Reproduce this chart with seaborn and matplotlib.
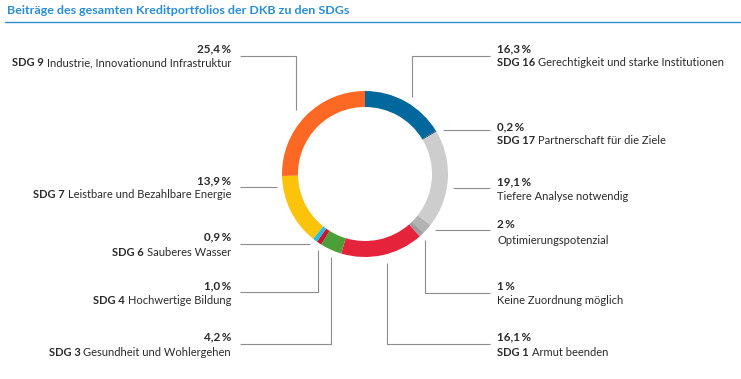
import matplotlib
matplotlib.use("Agg")
import matplotlib.pyplot as plt
import seaborn as sns

# ---- data ----
categories = ["SDG 16", "SDG 17", "Tiefere Analyse", "Optimierung", "Keine Zuordnung",
              "SDG 1", "SDG 3", "SDG 4", "SDG 6", "SDG 7", "SDG 9"]
values = [16.3, 0.2, 19.1, 2.0, 1.0, 16.1, 4.2, 1.0, 0.9, 13.9, 25.4]
colors = ["#00689D", "#19486A", "#CDCDCD", "#B3B3B3", "#9E9E9E",
          "#E5243B", "#4C9F38", "#C5192D", "#26BDE2", "#FCC30B", "#FD6925"]

pct_labels = ["16,3\u2009%", "0,2\u2009%", "19,1\u2009%", "2\u2009%", "1\u2009%", "16,1\u2009%",
              "4,2\u2009%", "1,0\u2009%", "0,9\u2009%", "13,9\u2009%", "25,4\u2009%"]
bold_names = ["SDG 16", "SDG 17", "", "", "", "SDG 1", "SDG 3", "SDG 4", "SDG 6", "SDG 7", "SDG 9"]
desc_names = ["Gerechtigkeit und starke Institutionen", "Partnerschaft für die Ziele",
              "Tiefere Analyse notwendig", "Optimierungspotenzial", "Keine Zuordnung möglich",
              "Armut beenden", "Gesundheit und Wohlergehen", "Hochwertige Bildung",
              "Sauberes Wasser", "Leistbare und Bezahlbare Energie",
              "Industrie, Innovationund Infrastruktur"]
title = "Beiträge des gesamten Kreditportfolios der DKB zu den SDGs"

sns.set_theme(style="white")
plt.rcParams['font.family'] = ['Lato', 'DejaVu Sans']

W, H = 741, 379
fig = plt.figure(figsize=(W / 100, H / 100), dpi=100)
ax = fig.add_axes([0, 0, 1, 1])
ax.set_xlim(0, W)
ax.set_ylim(0, H)
ax.set_aspect('equal')
ax.axis('off')

def Y(y):
    return H - y

cx, cy, R, ring = 365, 174, 83, 16
ax.pie(values, colors=colors, startangle=90, counterclock=False,
       center=(cx, Y(cy)), radius=R, frame=True,
       wedgeprops=dict(width=ring, edgecolor='none', linewidth=0))
ax.set_xlim(0, W)
ax.set_ylim(0, H)
ax.axis('off')

fig.canvas.draw()
renderer = fig.canvas.get_renderer()

def width_px(t):
    return t.get_window_extent(renderer=renderer).width

# title, fitted to the reference width (7..350 px)
blue = "#2A8DD8"
tt = ax.text(7, Y(11), title, color=blue, fontsize=9.5, fontweight='bold', va='center', ha='left')
tw = width_px(tt)
tt.set_fontsize(9.5 * 343 / tw)
ax.plot([5, W], [Y(22), Y(22)], color=blue, lw=1.0)

txt_col = "#2B2B2B"
line_col = "#8C8C8C"

# fit label font size so the SDG 9 line spans about 222 px as in the reference
fs0 = 8.6
a = ax.text(0, 0, bold_names[10], fontsize=fs0, fontweight='bold')
b = ax.text(0, 0, desc_names[10], fontsize=fs0)
total = width_px(a) + 3 + width_px(b)
a.remove(); b.remove()
fs = fs0 * 219 / total

label_pos = {
    0: (49, 63, 'R'), 1: (127, 140, 'R'), 2: (182, 196, 'R'), 3: (225, 240, 'R'),
    4: (286, 300, 'R'), 5: (337, 352, 'R'), 6: (337, 352, 'L'), 7: (286, 301, 'L'),
    8: (237, 252, 'L'), 9: (181, 195, 'L'), 10: (49, 63, 'L'),
}

for i, (py, ny, side) in label_pos.items():
    if side == 'R':
        x0 = 497
        ax.text(x0, Y(py), pct_labels[i], color=txt_col, fontsize=fs * 1.04, fontweight='bold', va='center', ha='left')
        if bold_names[i]:
            tb = ax.text(x0, Y(ny), bold_names[i], color=txt_col, fontsize=fs, fontweight='bold', va='center', ha='left')
            w = width_px(tb)
            ax.text(x0 + w + 3, Y(ny), desc_names[i], color=txt_col, fontsize=fs, va='center', ha='left')
        else:
            ax.text(x0, Y(ny), desc_names[i], color=txt_col, fontsize=fs, va='center', ha='left')
    else:
        x1 = 231
        ax.text(x1, Y(py), pct_labels[i], color=txt_col, fontsize=fs * 1.04, fontweight='bold', va='center', ha='right')
        td = ax.text(x1, Y(ny), desc_names[i], color=txt_col, fontsize=fs, va='center', ha='right')
        w = width_px(td)
        ax.text(x1 - w - 3, Y(ny), bold_names[i], color=txt_col, fontsize=fs, fontweight='bold', va='center', ha='right')

leaders = [
    [(412, 97), (412, 56), (490, 56)],          # SDG 16
    [(443, 130), (490, 130)],                    # SDG 17
    [(453, 188), (490, 188)],                    # Tiefere Analyse
    [(435, 230), (490, 230)],                    # Optimierung
    [(425, 240), (425, 293), (490, 293)],        # Keine Zuordnung
    [(387, 263), (387, 344), (490, 344)],        # SDG 1
    [(331, 257), (331, 344), (240, 344)],        # SDG 3
    [(318, 250), (318, 292), (240, 292)],        # SDG 4
    [(310, 244), (240, 244)],                    # SDG 6
    [(277, 187), (240, 187)],                    # SDG 7
    [(296, 110), (296, 56), (240, 56)],          # SDG 9
]
for pts in leaders:
    xs = [p[0] for p in pts]
    ys = [Y(p[1]) for p in pts]
    ax.plot(xs, ys, color=line_col, lw=0.8, solid_capstyle='butt')

fig.savefig("out.png", dpi=100)
